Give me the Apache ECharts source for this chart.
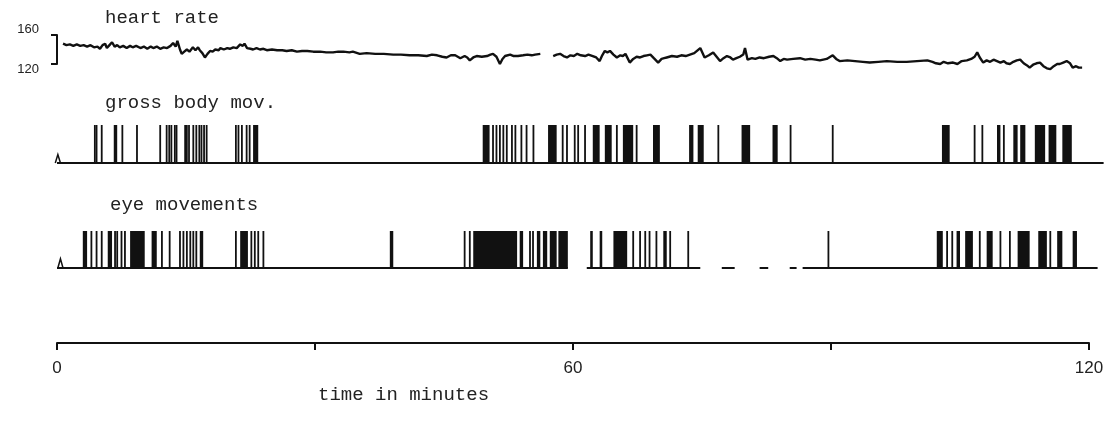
<!DOCTYPE html>
<html lang="en">
<head>
<meta charset="UTF-8"/>
<title>heart rate, body and eye movements</title>
<script src="https://cdn.jsdelivr.net/npm/echarts@6/dist/echarts.min.js"></script>
<style>html,body{margin:0;background:#fff;}</style>
</head>
<body>
<div id="main" style="width:1107px;height:428px;"></div>
<script type="text/javascript">
// heart rate trace: [minute, beats per minute], null = pen lifted
var heartRate = [
	[0.7,148],[1.1,146],[1.5,147],[1.9,145],[2.3,147],[2.7,145],[3.1,146],[3.5,144],[3.9,146],[4.3,143],
	[4.7,144],[5.0,141],[5.3,146],[5.6,148],[5.8,142],[6.1,146],[6.4,150],[6.7,144],[7.0,146],[7.3,143],
	[7.7,145],[8.1,142],[8.5,145],[8.8,143],[9.2,145],[9.7,142],[10.1,144],[10.5,141],[10.9,144],[11.2,142],
	[11.6,144],[12.0,141],[12.4,143],[12.8,142],[13.2,145],[13.5,149],[13.8,144],[14.0,152],[14.3,140],[14.5,134],
	[14.8,137],[15.1,140],[15.4,137],[15.8,143],[16.1,139],[16.4,143],[16.6,139],[16.9,135],[17.2,129],[17.5,134],
	[17.8,138],[18.1,137],[18.4,140],[18.8,139],[19.0,142],[19.4,140],[19.8,142],[20.1,141],[20.5,143],[20.9,142],
	[21.3,147],[21.6,145],[21.8,148],[22.1,142],[22.5,141],[22.8,140],[23.2,142],[23.6,140],[24.0,141],[24.4,139],
	[25.0,140],[25.6,139],[26.2,139],[26.7,138],[27.3,139],[27.9,137],[28.5,138],[29.1,138],[29.8,137],[30.6,137],
	[31.3,136],[32.1,136],[32.7,137],[33.3,137],[34.0,136],[34.4,137],[35.2,134],[36.0,135],[37.0,134],[38.0,134],
	[39.1,133],[40.0,133],[41.0,132],[42.0,132],[43.0,131],[43.6,133],[44.2,132],[44.8,130],[45.3,129],[45.8,132],
	[46.3,132],[46.9,128],[47.4,131],[47.7,129],[48.0,125],[48.4,129],[48.8,131],[49.4,130],[50.0,131],[50.4,133],
	[50.7,134],[51.1,130],[51.5,120],[51.8,127],[52.1,131],[52.7,133],[53.1,131],[53.6,131],[54.2,132],[54.7,133],
	[55.2,132],[55.6,133],[56.2,134],[56.9,null],
	[57.7,131],[58.1,133],[58.5,134],[58.9,131],[59.3,129],[59.7,132],[60.1,131],[60.5,134],[60.9,132],[61.4,131],
	[61.8,133],[62.3,131],[62.7,129],[63.1,124],[63.4,132],[63.7,138],[64.0,136],[64.3,138],[64.7,133],[65.1,129],
	[65.5,132],[65.8,131],[66.1,134],[66.3,133],[66.6,122],[67.0,127],[67.4,130],[67.8,129],[68.2,131],[68.6,132],
	[69.0,133],[69.4,128],[69.9,122],[70.3,127],[70.6,128],[70.9,129],[71.5,131],[72.1,130],[72.6,132],[73.1,131],
	[73.6,133],[74.1,135],[74.8,142],[75.3,129],[75.8,132],[76.3,136],[76.7,130],[77.1,124],[77.5,128],[77.9,131],
	[78.3,129],[78.6,126],[79.0,128],[79.4,130],[79.8,133],[80.0,142],[80.3,126],[80.8,128],[81.2,127],[81.7,129],
	[82.2,128],[82.8,130],[83.3,131],[83.7,128],[84.1,124],[84.5,127],[84.9,126],[85.6,127],[86.4,128],[87.0,126],
	[87.6,127],[88.2,126],[88.7,125],[89.5,127],[90.2,132],[90.6,127],[91.0,124],[91.9,125],[92.8,124],[93.7,123],
	[94.5,122],[95.5,123],[96.5,124],[97.7,123],[98.8,123],[100.0,124],[101.2,125],[101.8,123],[102.2,121],[102.7,120],
	[103.1,123],[103.6,121],[104.2,122],[104.7,120],[105.2,124],[105.8,125],[106.3,127],[106.7,130],[107.0,136],[107.3,129],
	[107.7,122],[108.1,125],[108.5,123],[108.9,126],[109.3,124],[109.7,122],[110.1,124],[110.4,121],[110.8,120],[111.2,123],
	[111.6,125],[112.0,126],[112.4,121],[112.8,118],[113.1,115],[113.5,119],[113.9,121],[114.3,122],[114.7,117],[115.1,114],
	[115.5,113],[115.9,117],[116.3,120],[116.6,120],[117.0,122],[117.4,124],[117.6,126],[117.8,121],[118.1,115],[118.5,117],
	[118.8,115],[119.2,115]
];

// gross body movements: single strokes (minute) and solid bursts [from, to]
var bodySpikes = [4.4,4.6,5.2,7.6,9.3,12.0,12.75,13.05,13.3,13.7,13.9,14.9,15.1,15.35,15.85,16.2,16.55,16.8,17.1,17.4,
	20.8,21.1,21.5,22.05,22.4,50.7,51.1,51.5,51.9,52.3,52.9,53.3,54.0,54.6,55.4,58.8,59.3,60.2,60.6,61.4,
	65.1,67.4,76.9,85.3,90.2,106.7,107.6,110.1];
var bodyBursts = [[6.6,7.0],[22.8,23.4],[49.5,50.3],[57.1,58.1],[62.3,63.1],[63.7,64.5],[65.8,67.0],[69.3,70.1],
	[73.5,74.0],[74.5,75.2],[79.6,80.6],[83.2,83.8],[102.9,103.8],[109.3,109.7],[111.2,111.7],[112.0,112.6],
	[113.7,114.9],[115.3,116.2],[116.9,118.0]];
var bodyBaseline = [[0,121.7]];
var bodyBlip = [[0.1,0.22]];

// eye movements
var eyeSpikes = [4.0,4.6,5.2,6.75,7.0,7.5,7.9,12.2,13.1,14.3,14.7,15.1,15.5,15.85,16.2,20.8,22.6,23.0,23.4,24.0,
	47.4,48.0,55.0,55.35,67.0,67.8,68.4,68.9,69.7,71.3,73.4,89.7,103.5,104.1,107.3,109.7,110.8,115.5];
var eyeBursts = [[3.0,3.5],[5.9,6.4],[8.5,10.2],[11.0,11.6],[16.6,17.0],[21.3,22.2],[38.7,39.1],[48.4,53.5],
	[53.8,54.2],[55.8,56.2],[56.5,57.0],[57.3,58.1],[58.3,59.4],[62.0,62.3],[63.1,63.4],[64.7,66.3],[70.5,70.9],
	[102.3,103.0],[104.6,105.0],[105.6,106.5],[108.1,108.8],[111.7,113.1],[114.1,115.1],[116.3,116.9],[118.1,118.6]];
var eyeBaseline = [[0,59.4],[61.6,74.8],[77.3,78.8],[81.7,82.7],[85.2,86.0],[86.7,121.0]];
var eyeBlip = [[0.4,0.25]];

// time axis
var timeTicks = [0,30,60,90,120];
var timeLabels = [0,60,120];

var INK = '#111';
var PX_PER_MIN = 8.6;
var LEFT = 57;
var MONO = 'Liberation Mono';

function spikeItem(params, api) {
	var b = api.coord([api.value(0), 0]);
	var t = api.coord([api.value(0), api.value(1)]);
	return {type: 'rect', shape: {x: b[0] - 0.9, y: t[1], width: 1.8, height: b[1] - t[1]}, style: {fill: INK}};
}
function burstItem(params, api) {
	var a = api.coord([api.value(0), 1]);
	var b = api.coord([api.value(1), 0]);
	return {type: 'rect', shape: {x: a[0], y: a[1], width: Math.max(b[0] - a[0], 1.8), height: b[1] - a[1]}, style: {fill: INK}};
}
function baseItem(params, api) {
	var a = api.coord([api.value(0), 0]);
	var b = api.coord([api.value(1), 0]);
	return {type: 'line', shape: {x1: a[0], y1: a[1], x2: b[0], y2: b[1]}, style: {stroke: INK, lineWidth: 2}};
}
function blipItem(params, api) {
	var t = api.value(0);
	return {type: 'polyline', shape: {points: [api.coord([t - 0.3, 0]), api.coord([t, api.value(1)]), api.coord([t + 0.3, 0])]},
		style: {stroke: INK, lineWidth: 1.5, fill: null}};
}

function trackSeries(idx, spikes, bursts, baseline, blip) {
	return [
		{type: 'custom', xAxisIndex: idx, yAxisIndex: idx, renderItem: baseItem, data: baseline, silent: true},
		{type: 'custom', xAxisIndex: idx, yAxisIndex: idx, renderItem: blipItem, data: blip, silent: true},
		{type: 'custom', xAxisIndex: idx, yAxisIndex: idx, renderItem: burstItem, data: bursts, silent: true},
		{type: 'custom', xAxisIndex: idx, yAxisIndex: idx, renderItem: spikeItem,
			data: spikes.map(function (t) { return [t, 1]; }), silent: true}
	];
}

var hiddenX = function (max) { return {type: 'value', min: 0, max: max, show: false}; };
var hiddenY = function (i) { return {type: 'value', gridIndex: i, min: 0, max: 1, show: false}; };

var myChart = echarts.init(document.getElementById('main'));
var option = {
	animation: false,
	backgroundColor: '#fff',
	title: [
		{text: 'heart rate', left: 105, top: 8},
		{text: 'gross body mov.', left: 105, top: 93},
		{text: 'eye movements', left: 110, top: 195},
		{text: 'time in minutes', left: 318, top: 385}
	].map(function (t) {
		t.padding = 0;
		t.textStyle = {fontFamily: MONO, fontSize: 19, fontWeight: 'normal', color: '#222'};
		return t;
	}),
	grid: [
		{left: LEFT, top: 35, width: 120 * PX_PER_MIN, height: 29},
		{left: LEFT, top: 125, width: 122 * PX_PER_MIN, height: 38},
		{left: LEFT, top: 231, width: 122 * PX_PER_MIN, height: 37},
		{left: LEFT, top: 342, width: 120 * PX_PER_MIN, height: 1}
	],
	xAxis: [
		Object.assign(hiddenX(120), {gridIndex: 0}),
		Object.assign(hiddenX(122), {gridIndex: 1}),
		Object.assign(hiddenX(122), {gridIndex: 2}),
		{
			type: 'value', gridIndex: 3, min: timeTicks[0], max: timeTicks[timeTicks.length - 1],
			interval: timeTicks[1] - timeTicks[0],
			axisLine: {lineStyle: {color: INK, width: 2}},
			axisTick: {length: 7, lineStyle: {color: INK, width: 2}},
			splitLine: {show: false},
			axisLabel: {
				margin: 17, fontFamily: 'Liberation Sans', fontSize: 17, color: '#222',
				formatter: function (v) { return timeLabels.indexOf(v) >= 0 ? String(v) : ''; }
			}
		}
	],
	yAxis: [
		{
			type: 'value', gridIndex: 0, min: 120, max: 160, interval: 40,
			axisLine: {show: true, lineStyle: {color: INK, width: 2}},
			axisTick: {show: true, inside: false, length: 6, lineStyle: {color: INK, width: 2}},
			splitLine: {show: false},
			axisLabel: {
				margin: 18, fontFamily: 'Liberation Sans', fontSize: 13, color: '#222',
				formatter: function (v) { return v === 160 ? '{up|160}' : '{dn|120}'; },
				rich: {up: {padding: [0, 0, 12, 0]}, dn: {padding: [10, 0, 0, 0]}}
			}
		},
		hiddenY(1), hiddenY(2),
		{type: 'value', gridIndex: 3, min: 0, max: 1, show: false}
	],
	series: [
		{
			type: 'line', xAxisIndex: 0, yAxisIndex: 0, symbol: 'none', clip: false, connectNulls: false,
			lineStyle: {color: INK, width: 2.4},
			data: heartRate.map(function (p) { return [p[0], p[1] === null ? '-' : p[1]]; })
		}
	].concat(trackSeries(1, bodySpikes, bodyBursts, bodyBaseline, bodyBlip))
	 .concat(trackSeries(2, eyeSpikes, eyeBursts, eyeBaseline, eyeBlip))
};
myChart.setOption(option);
</script>
</body>
</html>
